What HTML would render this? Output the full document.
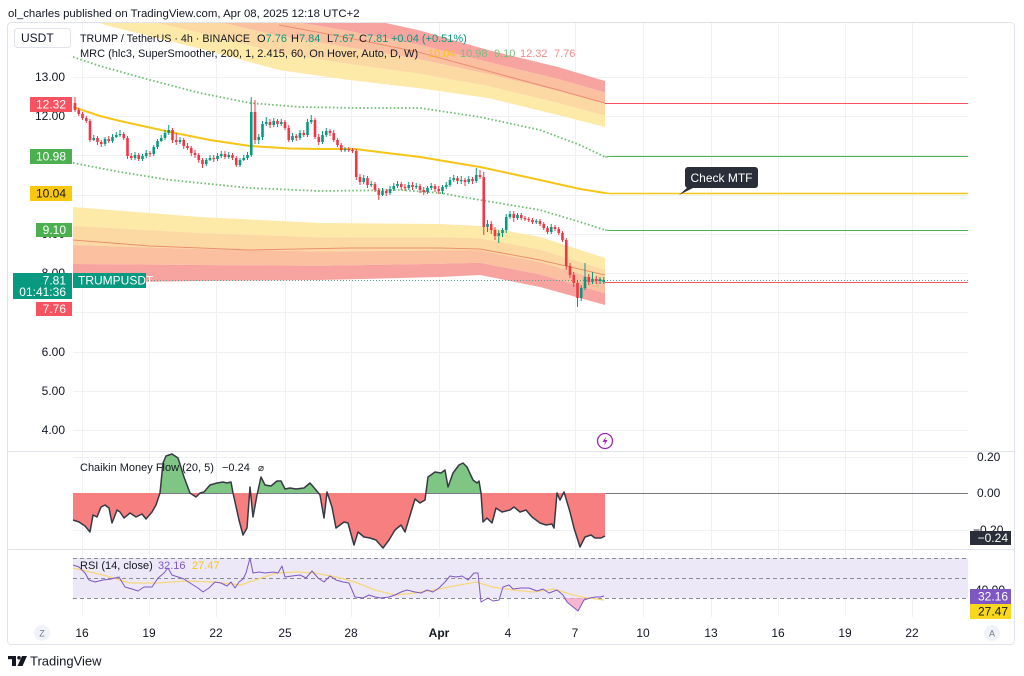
<!DOCTYPE html>
<html><head><meta charset="utf-8">
<style>
html,body{margin:0;padding:0;background:#fff;}
svg{display:block;font-family:"Liberation Sans",Arial,sans-serif;}
</style></head><body>
<svg width="1024" height="676" viewBox="0 0 1024 676" xmlns="http://www.w3.org/2000/svg">
<defs>
<clipPath id="main"><rect x="73" y="23" width="895" height="428"/></clipPath>
<clipPath id="cmfUp"><rect x="73" y="440" width="895" height="53"/></clipPath>
<clipPath id="cmfDn"><rect x="73" y="493" width="895" height="56"/></clipPath>
</defs>
<rect width="1024" height="676" fill="#fff"/>
<text x="8" y="17" font-size="11.4" fill="#131722">ol_charles published on TradingView.com, Apr 08, 2025 12:18 UTC+2</text>

<!-- frame -->
<rect x="7.5" y="22.5" width="1007" height="622" rx="4" fill="none" stroke="#e0e3eb"/>
<line x1="7" y1="451.5" x2="1015" y2="451.5" stroke="#e0e3eb"/>
<line x1="7" y1="549.5" x2="1015" y2="549.5" stroke="#e0e3eb"/>

<!-- grid -->
<g stroke="#f0f1f5" stroke-width="1">
<path d="M73 77.5H968M73 116.5H968M73 155.5H968M73 195.5H968M73 234.5H968M73 273.5H968M73 312.5H968M73 352.5H968M73 391.5H968M73 430.5H968"/>
<path d="M82.5 23V617M149.5 23V617M216.5 23V617M285.5 23V617M351.5 23V617M439.5 23V617M508.5 23V617M575.5 23V617M643.5 23V617M711.5 23V617M778.5 23V617M845.5 23V617M912.5 23V617"/>
<path d="M73 457.5H968M73 530.5H968"/>
</g>

<g clip-path="url(#main)">
<!-- upper MRC band -->
<polygon fill="#fde9a8" points="73,10 105,25 209,51 279,70 349,80 418,88 488,98 558,115 605,127 605,115.5 558,103 488,86 418,73.5 349,64 279,53 209,35 105,11 73,-1"/>
<polygon fill="#fcd9a2" points="73,-1 105,11 209,35 279,53 349,64 418,73.5 488,86 558,103 605,115.5 605,104 558,91 488,74 418,59 349,47.5 279,36 209,19.5 105,-2.5 73,-12"/>
<polygon fill="#fac09f" points="73,-12 105,-2.5 209,19.5 279,36 349,47.5 418,59 488,74 558,91 605,104 605,92.5 558,79 488,62 418,44.5 349,31 279,19 209,4 105,-16 73,-24"/>
<polygon fill="#f7a4a0" points="73,-24 105,-16 209,4 279,19 349,31 418,44.5 488,62 558,79 605,92.5 605,81 558,67 488,50 418,30 349,15 279,2 209,-12 105,-30 73,-35"/>
<polyline fill="none" stroke="#ec8f72" stroke-width="1" points="279,25 349,38 418,52 488,71 558,90 605,103"/>

<!-- lower MRC band -->
<polygon fill="#fde9a8" points="73,207 200,217 320,223 440,224 480,226 540,237 605,258 605,269.75 540,249.5 480,238.25 440,237.25 320,237.25 200,233 73,226"/>
<polygon fill="#fcd9a2" points="73,226 200,233 320,237.25 440,237.25 480,238.25 540,249.5 605,269.75 605,281.5 540,262 480,250.5 440,250.5 320,251.5 200,249 73,245"/>
<polygon fill="#fac09f" points="73,245 200,249 320,251.5 440,250.5 480,250.5 540,262 605,281.5 605,293.25 540,274.5 480,262.75 440,263.75 320,265.75 200,265 73,264"/>
<polygon fill="#f7a4a0" points="73,264 200,265 320,265.75 440,263.75 480,262.75 540,274.5 605,293.25 605,305 540,287 480,275 440,277 320,280 200,281 73,283"/>
<polyline fill="none" stroke="#ec8f72" stroke-width="1" points="73,240 150,246 250,250 350,248 440,248 480,249 540,260 605,275"/>

<!-- dotted bands -->
<polyline fill="none" stroke="#6fbf73" stroke-width="1.8" stroke-dasharray="1.6 2.2" points="73,57 100,66 150,80 200,93 250,103 300,107 360,108 420,108 480,117 540,130 580,145 605,157"/>
<polyline fill="none" stroke="#6fbf73" stroke-width="1.8" stroke-dasharray="1.6 2.2" points="73,163 120,172 170,180 250,188 320,191 400,190 440,193 480,200 540,210 580,222 605,230"/>
<!-- mean -->
<polyline fill="none" stroke="#f5c518" stroke-width="2" stroke-linejoin="round" points="73,107 100,116 120,121 170,132 210,140 250,146 290,148.5 320,149 355,149 420,157 480,167 540,180 580,189 605,193"/>

<!-- extensions -->
<path d="M605 103.5H968" stroke="#f7525f" stroke-width="1"/>
<path d="M605 157 L610 156.5H968" fill="none" stroke="#4caf50" stroke-width="1"/>
<path d="M605 193 L610 193.5H968" fill="none" stroke="#f5c518" stroke-width="1.5"/>
<path d="M605 230 L610 230.5H968" fill="none" stroke="#4caf50" stroke-width="1"/>
<path d="M605 282.5H968" stroke="#f7525f" stroke-width="1"/>
<path d="M73 280.5H968" stroke="#5f9e96" stroke-width="1" stroke-dasharray="1 2"/>

<!-- wicks -->
<path fill="none" stroke="#f23645" stroke-width="1" d="M75 97V112M78.75 108V116M82.5 112V120M86.25 116V123M90 119V142M97.5 136V145M101.25 140V147M108.75 136V143M123.75 132V140M127.5 136V159M131.25 153V160M138.75 153V161M150 151V157M172.5 128V143M176.25 133V145M183.75 138V149M187.5 143V150M191.25 146V156M195 150V158M198.75 153V163M202.5 158V168M213.75 155V162M225 151V159M232.5 153V160M236.25 156V167M255 100V144M270 119V128M277.5 119V127M285 120V130M288.75 125V142M296.25 134V141M303.75 130V137M315 118V139M318.75 134V145M330 129V136M333.75 130V142M337.5 138V147M341.25 143V152M348.75 147V152M352.5 148V153M356.25 149V180M360 174V185M367.5 176V188M375 182V192M378.75 188V200M386.25 189V196M401.25 182V190M405 184V191M412.5 182V190M420 184V193M423.75 187V195M435 184V192M438.75 186V194M457.5 176V184M465 178V186M472.5 177V184M480 170V179M483.75 172V235M491.25 221V234M495 227V240M513.75 211V222M521.25 213V220M525 216V221M528.75 217V222M532.5 218V224M540 219V226M543.75 222V230M547.5 226V234M555 225V231M558.75 227V235M562.5 231V242M566.25 238V270M570 263V278M573.75 272V287M577.5 280V307M588.75 274V285M596.25 276V284"/>
<path fill="none" stroke="#089981" stroke-width="1" d="M93.75 135V141M105 137V146M112.5 134V143M116.25 132V138M120 130V137M135 152V160M142.5 154V161M146.25 150V158M153.75 145V156M157.5 139V149M161.25 135V142M165 130V140M168.75 125V135M180 137V144M206.25 158V166M210 155V161M217.5 153V161M221.25 151V158M228.75 152V159M240 158V167M243.75 155V161M247.5 152V160M251.25 97V157M258.75 134V144M262.5 121V140M266.25 117V126M273.75 118V127M281.25 119V126M292.5 133V142M300 130V140M307.5 119V137M311.25 115V124M322.5 131V144M326.25 128V137M345 147V152M363.75 175V184M371.25 181V187M382.5 188V196M390 186V195M393.75 183V191M397.5 181V188M408.75 182V190M416.25 183V189M427.5 186V194M431.25 183V190M442.5 185V194M446.25 182V189M450 177V187M453.75 175V182M461.25 176V184M468.75 176V184M476.25 168V183M487.5 220V232M498.75 230V243M502.5 228V237M506.25 214V233M510 211V219M517.5 213V220M536.25 219V224M551.25 224V234M581.25 285V301M585 263V290M592.5 272V284M600 277V284M603.75 277V284"/>
<!-- red bodies -->
<g fill="#f23645">
<rect x="73.7" y="103" width="2.6" height="7"/><rect x="77.45" y="110" width="2.6" height="4"/><rect x="81.2" y="114" width="2.6" height="4"/><rect x="84.95" y="118" width="2.6" height="3"/><rect x="88.7" y="121" width="2.6" height="19"/><rect x="96.2" y="138" width="2.6" height="4"/><rect x="99.95" y="142" width="2.6" height="2"/><rect x="107.45" y="139" width="2.6" height="2"/><rect x="122.45" y="134" width="2.6" height="4"/><rect x="126.2" y="138" width="2.6" height="18"/><rect x="129.95" y="156" width="2.6" height="2"/><rect x="137.45" y="155" width="2.6" height="4"/><rect x="148.7" y="153" width="2.6" height="1.2"/><rect x="171.2" y="130" width="2.6" height="10"/><rect x="174.95" y="140" width="2.6" height="2"/><rect x="182.45" y="140" width="2.6" height="6"/><rect x="186.2" y="146" width="2.6" height="2"/><rect x="189.95" y="148" width="2.6" height="5"/><rect x="193.7" y="153" width="2.6" height="2"/><rect x="197.45" y="155" width="2.6" height="5"/><rect x="201.2" y="160" width="2.6" height="4"/><rect x="212.45" y="158" width="2.6" height="1.2"/><rect x="223.7" y="154" width="2.6" height="3"/><rect x="231.2" y="155" width="2.6" height="3"/><rect x="234.95" y="158" width="2.6" height="7"/><rect x="253.7" y="112" width="2.6" height="28"/><rect x="268.7" y="122" width="2.6" height="3"/><rect x="276.2" y="121" width="2.6" height="3"/><rect x="283.7" y="122" width="2.6" height="6"/><rect x="287.45" y="128" width="2.6" height="12"/><rect x="294.95" y="136" width="2.6" height="2"/><rect x="302.45" y="133" width="2.6" height="2"/><rect x="313.7" y="120" width="2.6" height="17"/><rect x="317.45" y="137" width="2.6" height="5"/><rect x="328.7" y="131" width="2.6" height="2"/><rect x="332.45" y="133" width="2.6" height="7"/><rect x="336.2" y="140" width="2.6" height="5"/><rect x="339.95" y="145" width="2.6" height="5"/><rect x="347.45" y="149" width="2.6" height="1.2"/><rect x="351.2" y="150" width="2.6" height="1.2"/><rect x="354.95" y="151" width="2.6" height="26"/><rect x="358.7" y="177" width="2.6" height="5"/><rect x="366.2" y="178" width="2.6" height="7"/><rect x="373.7" y="184" width="2.6" height="6"/><rect x="377.45" y="190" width="2.6" height="5"/><rect x="384.95" y="191" width="2.6" height="2"/><rect x="399.95" y="184" width="2.6" height="3"/><rect x="403.7" y="187" width="2.6" height="1.2"/><rect x="411.2" y="185" width="2.6" height="2"/><rect x="418.7" y="186" width="2.6" height="4"/><rect x="422.45" y="190" width="2.6" height="2"/><rect x="433.7" y="186" width="2.6" height="3"/><rect x="437.45" y="189" width="2.6" height="2"/><rect x="456.2" y="178" width="2.6" height="3"/><rect x="463.7" y="180" width="2.6" height="2"/><rect x="471.2" y="179" width="2.6" height="2"/><rect x="478.7" y="175" width="2.6" height="2"/><rect x="482.45" y="177" width="2.6" height="50"/><rect x="489.95" y="224" width="2.6" height="6"/><rect x="493.7" y="230" width="2.6" height="6"/><rect x="512.45" y="214" width="2.6" height="4"/><rect x="519.95" y="215" width="2.6" height="3"/><rect x="523.7" y="218" width="2.6" height="1.2"/><rect x="527.45" y="219" width="2.6" height="1.2"/><rect x="531.2" y="220" width="2.6" height="2"/><rect x="538.7" y="221" width="2.6" height="3"/><rect x="542.45" y="224" width="2.6" height="4"/><rect x="546.2" y="228" width="2.6" height="4"/><rect x="553.7" y="227" width="2.6" height="2"/><rect x="557.45" y="229" width="2.6" height="4"/><rect x="561.2" y="233" width="2.6" height="7"/><rect x="564.95" y="240" width="2.6" height="26"/><rect x="568.7" y="266" width="2.6" height="9"/><rect x="572.45" y="275" width="2.6" height="8"/><rect x="576.2" y="283" width="2.6" height="15"/><rect x="587.45" y="277" width="2.6" height="5"/><rect x="594.95" y="279" width="2.6" height="2"/>
</g>
<!-- green bodies -->
<g fill="#089981">
<rect x="92.45" y="138" width="2.6" height="2"/><rect x="103.7" y="139" width="2.6" height="5"/><rect x="111.2" y="137" width="2.6" height="4"/><rect x="114.95" y="135" width="2.6" height="2"/><rect x="118.7" y="134" width="2.6" height="1.2"/><rect x="133.7" y="155" width="2.6" height="3"/><rect x="141.2" y="156" width="2.6" height="3"/><rect x="144.95" y="153" width="2.6" height="3"/><rect x="152.45" y="147" width="2.6" height="7"/><rect x="156.2" y="141" width="2.6" height="6"/><rect x="159.95" y="138" width="2.6" height="3"/><rect x="163.7" y="133" width="2.6" height="5"/><rect x="167.45" y="130" width="2.6" height="3"/><rect x="178.7" y="140" width="2.6" height="2"/><rect x="204.95" y="160" width="2.6" height="4"/><rect x="208.7" y="158" width="2.6" height="2"/><rect x="216.2" y="156" width="2.6" height="3"/><rect x="219.95" y="154" width="2.6" height="2"/><rect x="227.45" y="155" width="2.6" height="2"/><rect x="238.7" y="160" width="2.6" height="5"/><rect x="242.45" y="158" width="2.6" height="2"/><rect x="246.2" y="155" width="2.6" height="3"/><rect x="249.95" y="112" width="2.6" height="43"/><rect x="257.45" y="137" width="2.6" height="3"/><rect x="261.2" y="124" width="2.6" height="13"/><rect x="264.95" y="122" width="2.6" height="2"/><rect x="272.45" y="121" width="2.6" height="4"/><rect x="279.95" y="122" width="2.6" height="2"/><rect x="291.2" y="136" width="2.6" height="4"/><rect x="298.7" y="133" width="2.6" height="5"/><rect x="306.2" y="122" width="2.6" height="13"/><rect x="309.95" y="120" width="2.6" height="2"/><rect x="321.2" y="135" width="2.6" height="7"/><rect x="324.95" y="131" width="2.6" height="4"/><rect x="343.7" y="149" width="2.6" height="1.2"/><rect x="362.45" y="178" width="2.6" height="4"/><rect x="369.95" y="184" width="2.6" height="1.2"/><rect x="381.2" y="191" width="2.6" height="4"/><rect x="388.7" y="189" width="2.6" height="4"/><rect x="392.45" y="186" width="2.6" height="3"/><rect x="396.2" y="184" width="2.6" height="2"/><rect x="407.45" y="185" width="2.6" height="3"/><rect x="414.95" y="186" width="2.6" height="1.2"/><rect x="426.2" y="188" width="2.6" height="4"/><rect x="429.95" y="186" width="2.6" height="2"/><rect x="441.2" y="187" width="2.6" height="4"/><rect x="444.95" y="185" width="2.6" height="2"/><rect x="448.7" y="180" width="2.6" height="5"/><rect x="452.45" y="178" width="2.6" height="2"/><rect x="459.95" y="180" width="2.6" height="1.2"/><rect x="467.45" y="179" width="2.6" height="3"/><rect x="474.95" y="175" width="2.6" height="6"/><rect x="486.2" y="224" width="2.6" height="3"/><rect x="497.45" y="233" width="2.6" height="3"/><rect x="501.2" y="230" width="2.6" height="3"/><rect x="504.95" y="217" width="2.6" height="13"/><rect x="508.7" y="214" width="2.6" height="3"/><rect x="516.2" y="215" width="2.6" height="3"/><rect x="534.95" y="221" width="2.6" height="1.2"/><rect x="549.95" y="227" width="2.6" height="5"/><rect x="579.95" y="288" width="2.6" height="10"/><rect x="583.7" y="277" width="2.6" height="11"/><rect x="591.2" y="279" width="2.6" height="3"/><rect x="598.7" y="279" width="2.6" height="2"/><rect x="602.45" y="280" width="2.6" height="2"/>
</g>
</g>

<!-- Check MTF -->
<rect x="685" y="167" width="73" height="21" rx="3" fill="#2a2e39"/>
<polygon points="688,187 679,195 695,187" fill="#2a2e39"/>
<text x="721.5" y="182" font-size="12" fill="#ffffff" text-anchor="middle">Check MTF</text>

<!-- legend -->
<rect x="14.5" y="28.5" width="56" height="19" rx="3" fill="#fff" stroke="#e0e3eb"/>
<text x="21" y="42" font-size="12" fill="#131722">USDT</text>
<g font-size="11">
<text x="80" y="42" fill="#131722" textLength="170" lengthAdjust="spacingAndGlyphs">TRUMP / TetherUS · 4h · BINANCE</text>
<text x="257" y="42" fill="#131722">O<tspan fill="#089981">7.76</tspan></text>
<text x="291" y="42" fill="#131722">H<tspan fill="#089981">7.84</tspan></text>
<text x="327" y="42" fill="#131722">L<tspan fill="#089981">7.67</tspan></text>
<text x="359" y="42" fill="#131722">C<tspan fill="#089981">7.81</tspan></text>
<text x="391" y="42" fill="#089981">+0.04 (+0.51%)</text>
<text x="80" y="57" fill="#131722">MRC (hlc3, SuperSmoother, 200, 1, 2.415, 60, On Hover, Auto, D, W)</text>
<text x="428" y="57" fill="#f5c518">10.04</text>
<text x="460" y="57" fill="#7cbf7f">10.98</text>
<text x="494" y="57" fill="#7cbf7f">9.10</text>
<text x="520" y="57" fill="#f28b8b">12.32</text>
<text x="554" y="57" fill="#f28b8b">7.76</text>
</g>

<!-- left axis -->
<g font-size="12" fill="#131722" text-anchor="end">
<text x="65" y="81">13.00</text>
<text x="65" y="120">12.00</text>
<text x="65" y="159">11.00</text>
<text x="65" y="199">10.00</text>
<text x="65" y="238">9.00</text>
<text x="65" y="277">8.00</text>
<text x="65" y="316">7.00</text>
<text x="65" y="356">6.00</text>
<text x="65" y="395">5.00</text>
<text x="65" y="434">4.00</text>
</g>
<rect x="30" y="97" width="42" height="15" fill="#f7525f"/>
<rect x="30" y="149" width="42" height="15" fill="#4caf50"/>
<rect x="30" y="186" width="42" height="15" fill="#f9c80e"/>
<rect x="36" y="223" width="36" height="14" fill="#4caf50"/>
<rect x="13" y="273" width="59" height="26" fill="#089981"/>
<rect x="73" y="273" width="73" height="15" fill="#089981"/>
<rect x="36" y="302" width="36" height="14" fill="#f7525f"/>
<g font-size="12" text-anchor="end">
<text x="66" y="108.5" fill="#fff">12.32</text>
<text x="66" y="160.5" fill="#fff">10.98</text>
<text x="66" y="197.5" fill="#131722">10.04</text>
<text x="66" y="234" fill="#fff">9.10</text>
<text x="66" y="284.5" fill="#fff">7.81</text>
<text x="66" y="296" fill="#fff">01:41:36</text>
<text x="66" y="313" fill="#fff">7.76</text>
</g>
<text x="78" y="284.5" font-size="12" fill="#fff">TRUMPUSDT</text>

<!-- lightning icon -->
<circle cx="605" cy="441" r="7.5" fill="#fff" stroke="#9c27b0" stroke-width="1.3"/>
<path d="M606.5 436 L602.5 442 L605.2 442 L603.8 446 L607.6 440 L605 440 Z" fill="#9c27b0"/>

<!-- CMF -->
<path d="M73 493.5H968" stroke="#787b86" stroke-width="1"/>
<g>
<path clip-path="url(#cmfUp)" fill="#7fc583" d="M73 493 L73,520 79,522 85,526 90,532 93,515 97,517 101,507 105,505 109,508 112,523 117,510 120,512 124,518 130,513 136,517 142,514 146,519 152,512 156,505 160,493 163,463 166,456 172,454 178,458 184,477 190,493 196,497 200,493 204,492 210,485 217,483 223,482 227,483 231,482 233,493 239,520 243,535 247,528 250,487 253,517 257,495 261,477 265,485 271,486 277,481 281,481 285,489 290,488 296,489 304,488 310,483 316,490 320,495 324,518 327,492 332,507 336,528 344,522 348,523 354,545 358,532 364,537 370,538 376,540 383,548 389,540 395,530 401,525 405,532 415,499 420,503 425,500 428,477 435,472 441,473 445,470 448,487 453,473 459,465 463,463 467,467 473,480 477,483 479,481 481,493 483,522 487,518 492,523 496,508 502,512 510,510 514,507 520,512 526,510 532,517 540,523 546,525 552,524 554,528 557,493 560,500 564,492 570,512 574,528 580,547 585,537 591,535 595,538 601,538 605,536 L605 493 Z"/>
<path clip-path="url(#cmfDn)" fill="#f77f7f" d="M73 493 L73,520 79,522 85,526 90,532 93,515 97,517 101,507 105,505 109,508 112,523 117,510 120,512 124,518 130,513 136,517 142,514 146,519 152,512 156,505 160,493 163,463 166,456 172,454 178,458 184,477 190,493 196,497 200,493 204,492 210,485 217,483 223,482 227,483 231,482 233,493 239,520 243,535 247,528 250,487 253,517 257,495 261,477 265,485 271,486 277,481 281,481 285,489 290,488 296,489 304,488 310,483 316,490 320,495 324,518 327,492 332,507 336,528 344,522 348,523 354,545 358,532 364,537 370,538 376,540 383,548 389,540 395,530 401,525 405,532 415,499 420,503 425,500 428,477 435,472 441,473 445,470 448,487 453,473 459,465 463,463 467,467 473,480 477,483 479,481 481,493 483,522 487,518 492,523 496,508 502,512 510,510 514,507 520,512 526,510 532,517 540,523 546,525 552,524 554,528 557,493 560,500 564,492 570,512 574,528 580,547 585,537 591,535 595,538 601,538 605,536 L605 493 Z"/>
<polyline fill="none" stroke="#363a45" stroke-width="1.5" stroke-linejoin="round" points="73,520 79,522 85,526 90,532 93,515 97,517 101,507 105,505 109,508 112,523 117,510 120,512 124,518 130,513 136,517 142,514 146,519 152,512 156,505 160,493 163,463 166,456 172,454 178,458 184,477 190,493 196,497 200,493 204,492 210,485 217,483 223,482 227,483 231,482 233,493 239,520 243,535 247,528 250,487 253,517 257,495 261,477 265,485 271,486 277,481 281,481 285,489 290,488 296,489 304,488 310,483 316,490 320,495 324,518 327,492 332,507 336,528 344,522 348,523 354,545 358,532 364,537 370,538 376,540 383,548 389,540 395,530 401,525 405,532 415,499 420,503 425,500 428,477 435,472 441,473 445,470 448,487 453,473 459,465 463,463 467,467 473,480 477,483 479,481 481,493 483,522 487,518 492,523 496,508 502,512 510,510 514,507 520,512 526,510 532,517 540,523 546,525 552,524 554,528 557,493 560,500 564,492 570,512 574,528 580,547 585,537 591,535 595,538 601,538 605,536"/>
</g>
<text x="80" y="471" font-size="11" fill="#131722">Chaikin Money Flow (20, 5)</text>
<text x="222" y="471" font-size="11" fill="#131722">−0.24</text>
<text x="258" y="471" font-size="10" fill="#131722">⌀</text>
<!-- CMF right axis -->
<g font-size="12" fill="#131722">
<text x="977" y="461">0.20</text>
<text x="977" y="497">0.00</text>
<text x="973" y="534">−0.20</text>
</g>
<rect x="970" y="531" width="41" height="14" fill="#2a2e39"/>
<text x="1008" y="542" font-size="12" fill="#fff" text-anchor="end">−0.24</text>

<!-- RSI -->
<rect x="73" y="558" width="895" height="40" fill="#ede8f7"/>
<g stroke="#8a8d96" stroke-width="1" stroke-dasharray="4 3">
<path d="M73 558.5H968M73 578.5H968M73 598.5H968"/>
</g>
<polygon fill="#f3a5c4" opacity="0.8" points="563,598 567,602 573,607 578,611 584,600 585,598"/>
<polyline fill="none" stroke="#f6d77c" stroke-width="1.3" points="73,568 103,575 130,583 158,583 186,581 213,582 241,585 261,578 276,573 296,572 315,573 336,577 355,582 375,590 395,595 415,593 434,590 454,586 476,582 493,587 513,590 533,592 554,589 573,595 588,598 604,600"/>
<polyline fill="none" stroke="#7e57c2" stroke-width="1" stroke-linejoin="round" points="73,565 79,567 85,573 89,580 95,582 103,580 111,579 119,577 125,587 132,589 138,591 144,587 152,587 158,578 164,573 168,568 172,575 178,577 184,579 190,583 198,588 203,592 209,588 215,582 221,583 227,586 231,582 235,588 239,582 243,579 246,573 250,558 253,573 259,572 265,573 273,572 278,573 282,566 285,577 292,576 300,575 306,578 312,571 318,578 324,582 330,576 336,580 343,582 349,583 355,597 363,598 369,595 375,597 381,598 389,597 395,595 401,592 407,590 415,592 421,593 427,590 433,592 439,588 445,582 450,576 456,577 462,576 468,580 474,573 478,573 481,602 488,598 493,601 499,600 503,587 509,585 513,589 521,588 529,588 537,591 543,589 549,593 557,590 563,595 567,602 573,607 578,611 584,600 590,598 596,597 600,597 604,596"/>
<text x="80" y="569" font-size="11" fill="#131722">RSI (14, close)</text>
<text x="158" y="569" font-size="11" fill="#7e57c2">32.16</text>
<text x="192" y="569" font-size="11" fill="#f5c518">27.47</text>
<text x="975" y="594" font-size="12" fill="#131722">40.00</text>
<rect x="970" y="589" width="41" height="15" fill="#7e57c2"/>
<text x="1008" y="600.5" font-size="12" fill="#fff" text-anchor="end">32.16</text>
<rect x="970" y="604" width="41" height="15" fill="#f9d71c"/>
<text x="1008" y="615.5" font-size="12" fill="#131722" text-anchor="end">27.47</text>

<!-- time axis -->
<g font-size="12" fill="#131722" text-anchor="middle">
<text x="82" y="637">16</text>
<text x="149" y="637">19</text>
<text x="216" y="637">22</text>
<text x="285" y="637">25</text>
<text x="351" y="637">28</text>
<text x="439" y="637" font-weight="bold">Apr</text>
<text x="508" y="637">4</text>
<text x="575" y="637">7</text>
<text x="643" y="637">10</text>
<text x="711" y="637">13</text>
<text x="778" y="637">16</text>
<text x="845" y="637">19</text>
<text x="912" y="637">22</text>
</g>
<circle cx="42" cy="633" r="8" fill="#f0f3fa"/>
<text x="42" y="636.5" font-size="9" fill="#787b86" text-anchor="middle">Z</text>
<circle cx="992" cy="633" r="8" fill="#f0f3fa"/>
<text x="992" y="636.5" font-size="9" fill="#787b86" text-anchor="middle">A</text>

<!-- logo -->
<rect x="8" y="656" width="8" height="3.2" fill="#131722"/>
<rect x="12" y="656" width="4" height="10" fill="#131722"/>
<circle cx="19" cy="657.8" r="1.8" fill="#131722"/>
<polygon points="22,656 27,656 22.5,666 17.5,666" fill="#131722"/>
<text x="30" y="665.5" font-size="13" fill="#131722">TradingView</text>
</svg>
</body></html>
